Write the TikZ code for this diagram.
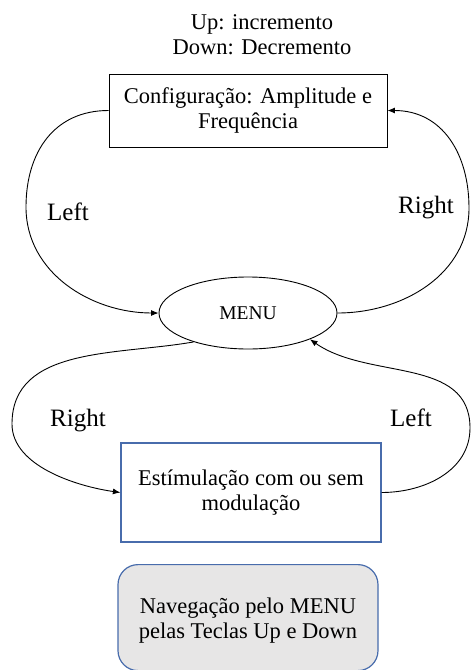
\documentclass[tikz,border=0pt]{standalone}
\usepackage{fontspec}
\setmainfont{Liberation Serif}
\usetikzlibrary{arrows.meta,shapes.geometric}
\definecolor{boxblue}{RGB}{72,108,172}
\definecolor{navgrey}{RGB}{231,230,230}
\tikzset{
  txt/.style={font=\fontsize{22.5}{25}\selectfont, align=center, inner sep=0pt},
  lbl/.style={font=\fontsize{25}{28}\selectfont, inner sep=0pt},
  blackbox/.style={draw=black, line width=0.9pt, txt},
  bluebox/.style={draw=boxblue, line width=1.2pt, txt},
  navbox/.style={draw=boxblue, line width=1.2pt, fill=navgrey, rounded corners=20pt, txt},
  menuell/.style={draw=black, line width=0.9pt, ellipse, inner sep=0pt, font=\fontsize{19.5}{22}\selectfont},
  conn/.style={line width=0.9pt, -{Latex[length=7.5pt,width=6pt]}},
}
\begin{document}
\begin{tikzpicture}[x=1pt,y=1pt]
\useasboundingbox (0,0) rectangle (471,-670);
\clip (0,0) rectangle (471,-670);

\node[txt] (updown) at (262,-34.5) {Up: incremento\\Down: Decremento};

\node[blackbox, minimum width=278pt, minimum height=73pt] (cfg) at (248,-110.5)
  {Configuração: Amplitude e\\Frequência};

\node[menuell, minimum width=178pt, minimum height=72pt] (menu) at (248,-313) {MENU};

\node[bluebox, minimum width=260pt, minimum height=99pt] (stim) at (251,-492.5)
  {\fontsize{22.5}{27}\selectfont Estímulação com ou sem\\modulação};

\node[navbox, minimum width=260pt, minimum height=106pt, anchor=north] (nav) at (248,-564)
  {};
\node[txt] (navtxt) at (248,-621) {\fontsize{22.5}{28}\selectfont Navegação pelo MENU\\pelas Teclas Up e Down};

\node[lbl] (lleft) at (68,-212) {Left};
\node[lbl] (lright) at (426,-208) {Right};
\node[lbl] (bright) at (78,-421) {Right};
\node[lbl] (bleft) at (411,-418) {Left};

\coordinate (c1) at (26,-207);
\coordinate (c2) at (469,-208);
\coordinate (c3) at (12,-424);
\coordinate (c4) at (470,-428);

\draw[conn] (cfg.west) to[out=180,in=90,looseness=1.1] (c1) to[out=-90,in=180] (menu.west);
\draw[conn] (menu.east) to[out=0,in=-90] (c2) to[out=90,in=0,looseness=1.1] (cfg.east);
\draw[conn] (menu.208) to[out=190,in=90] (c3) to[out=-90,in=172,looseness=0.85] (stim.west);
\draw[conn] (stim.east) to[out=0,in=-90] (c4) to[out=90,in=-35] (menu.337);
\end{tikzpicture}
\end{document}
